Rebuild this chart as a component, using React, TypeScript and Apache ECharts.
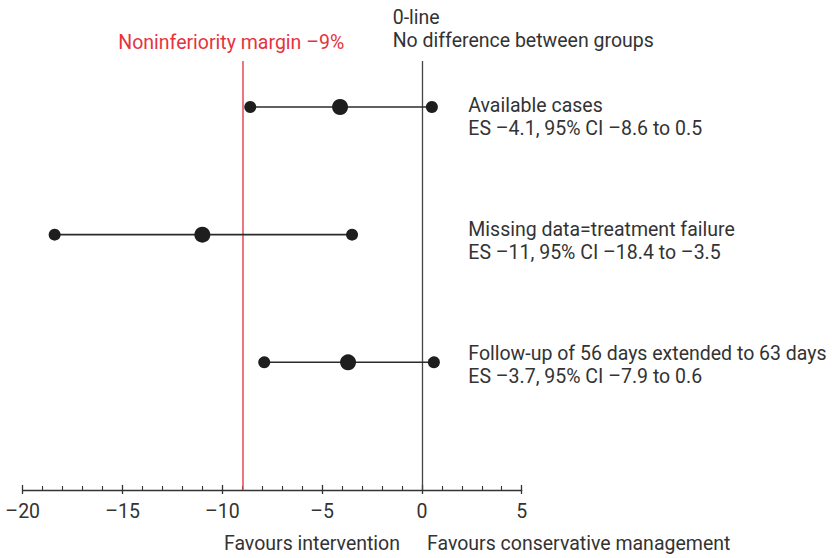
import React, { useEffect, useRef } from "react";
import * as echarts from "echarts";

const rowLabels = [
  "Available cases",
  "Missing data=treatment failure",
  "Follow-up of 56 days extended to 63 days",
];
const rowPos = [1, 2, 3];
const esValues = [-4.1, -11, -3.7];
const ciLow = [-8.6, -18.4, -7.9];
const ciHigh = [0.5, -3.5, 0.6];
const xMin = -20;
const xMax = 5;
const xInterval = 5;
const marginValue = -9;
const zeroValue = 0;

// layout constants
const labelAnchorX = 2.3;
const labelOffsetY = [10, 6, 3];

const dash = (v: number) => (v < 0 ? "\u2013" + Math.abs(v) : String(v));

const FONT = "Roboto, 'Noto Sans', sans-serif";
const FS = 19.5;
const TEXT = "#333333";
const RED = "#e8474f";
const RED_TEXT = "#e6333d";
const DOT = "#1e1e1e";

export default function App() {
  const ref = useRef<HTMLDivElement>(null);
  useEffect(() => {
    if (!ref.current) return;
    const chart = echarts.init(ref.current, undefined, { renderer: "svg" });

    const ciSeries = rowPos.map((p, i) => ({
      type: "line",
      data: [
        [ciLow[i], p],
        [ciHigh[i], p],
      ],
      symbol: "circle",
      symbolSize: 12,
      lineStyle: { color: "#2b2b2b", width: 1.6 },
      itemStyle: { color: DOT, opacity: 1 },
      z: 3,
      silent: true,
      ...(i === 0
        ? {
            markLine: {
              silent: true,
              symbol: "none",
              label: { show: false },
              data: [
                { xAxis: zeroValue, lineStyle: { color: "#444444", width: 1.3, type: "solid" } },
                { xAxis: marginValue, lineStyle: { color: RED, width: 1.5, type: "solid" } },
              ],
              z: 1,
            },
          }
        : {}),
    }));

    const option: any = {
      animation: false,
      grid: { left: 22.7, right: 310.3, top: 61, bottom: 68 },
      xAxis: [
        {
          type: "value",
          position: "bottom",
          min: xMin,
          max: xMax,
          interval: xInterval,
          axisLine: { show: true, lineStyle: { color: "#333", width: 1.3 } },
          axisTick: { show: true, inside: true, length: 5, lineStyle: { color: "#333", width: 1.3 } },
          minorTick: { show: true, splitNumber: 5, length: 4, lineStyle: { color: "#333", width: 1.1 } },
          splitLine: { show: false },
          axisLabel: {
            fontSize: FS,
            color: TEXT,
            fontFamily: FONT,
            margin: 11,
            formatter: (v: number) => dash(v),
          },
        },
        {
          type: "value",
          position: "bottom",
          offset: 0,
          min: xMin,
          max: xMax,
          interval: xInterval,
          axisLine: { show: false },
          axisTick: { show: true, inside: false, length: 4, lineStyle: { color: "#333", width: 1.3 } },
          splitLine: { show: false },
          axisLabel: { show: false },
        },
      ],
      yAxis: {
        type: "value",
        min: 0.64,
        max: 4,
        inverse: true,
        show: false,
        splitLine: { show: false },
      },
      series: [
        ...ciSeries,
        {
          type: "scatter",
          data: esValues.map((v, i) => [v, rowPos[i]]),
          symbolSize: 16,
          itemStyle: { color: DOT, opacity: 1 },
          z: 4,
          silent: true,
        },
        {
          type: "scatter",
          data: rowPos.map((p, i) => ({
            value: [labelAnchorX, p],
            label: {
              offset: [0, labelOffsetY[i]],
              formatter:
                rowLabels[i] +
                "\n" +
                "ES " +
                dash(esValues[i]) +
                ", 95% CI " +
                dash(ciLow[i]) +
                " to " +
                dash(ciHigh[i]),
            },
          })),
          symbolSize: 1,
          itemStyle: { color: "rgba(0,0,0,0)", opacity: 1 },
          silent: true,
          label: {
            show: true,
            position: "right",
            distance: 0,
            align: "left",
            fontSize: FS,
            lineHeight: 23,
            color: TEXT,
            opacity: 1,
            fontFamily: FONT,
          },
        },
      ],
      graphic: [
        {
          type: "text",
          left: 392.7,
          top: 7.5,
          style: { text: "0-line", fontSize: FS, fill: TEXT, fontFamily: FONT },
        },
        {
          type: "text",
          left: 392.7,
          top: 30.5,
          style: { text: "No difference between groups", fontSize: FS, fill: TEXT, fontFamily: FONT },
        },
        {
          type: "text",
          left: 118.3,
          top: 32.5,
          style: { text: "Noninferiority margin \u20139%", fontSize: FS, fill: RED_TEXT, fontFamily: FONT },
        },
        {
          type: "text",
          right: 832 - 400,
          top: 533,
          style: { text: "Favours intervention", fontSize: FS, fill: TEXT, fontFamily: FONT },
        },
        {
          type: "text",
          left: 427,
          top: 533,
          style: { text: "Favours conservative management", fontSize: FS, fill: TEXT, fontFamily: FONT },
        },
      ],
    };
    chart.setOption(option);
    return () => chart.dispose();
  }, []);
  return (
    <div
      ref={ref}
      style={{ position: "absolute", left: 0, top: 0, width: 832, height: 558 }}
    />
  );
}
